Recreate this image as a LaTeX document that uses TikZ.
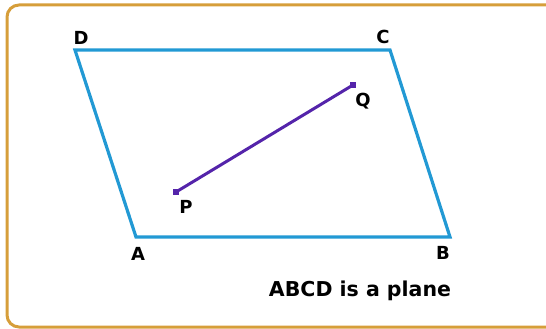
\documentclass[tikz,border=0pt]{standalone}
\usepackage{fontspec}
\setmainfont{DejaVu Sans}
\definecolor{frameorange}{RGB}{214,158,58}
\definecolor{planeblue}{RGB}{34,153,212}
\definecolor{segpurple}{RGB}{84,36,170}
\begin{document}
\begin{tikzpicture}[x=1pt, y=-1pt,
    lbl/.style={font=\fontsize{18}{18}\selectfont\bfseries, inner sep=0pt},
    dot/.style={fill=segpurple, minimum size=6pt, inner sep=0pt}]
    \clip (0,0) rectangle (546,329);

    % Cadre
    \draw[frameorange, line width=3pt, rounded corners=12pt] (7,5) rectangle (560,327);

    % Plan ABCD
    \coordinate (A) at (136,237);
    \coordinate (B) at (450,237);
    \coordinate (C) at (390,50);
    \coordinate (D) at (75,50);
    \draw[planeblue, line width=3.2pt] (A) -- (B) -- (C) -- (D) -- cycle;

    % Segment PQ
    \node[dot] (P) at (176,192) {};
    \node[dot] (Q) at (353,85) {};
    \draw[segpurple, line width=3pt] (P.center) -- (Q.center);

    % Labels
    \node[lbl] (lA) at (138,254) {A};
    \node[lbl] (lB) at (443,253) {B};
    \node[lbl] (lC) at (383,37) {C};
    \node[lbl] (lD) at (81,38) {D};
    \node[lbl] (lP) at (186,207) {P};
    \node[lbl] (lQ) at (363,101) {Q};
    \node[lbl, font=\fontsize{20.5}{20.5}\selectfont\bfseries] (caption) at (360,291) {ABCD is a plane};
\end{tikzpicture}
\end{document}
